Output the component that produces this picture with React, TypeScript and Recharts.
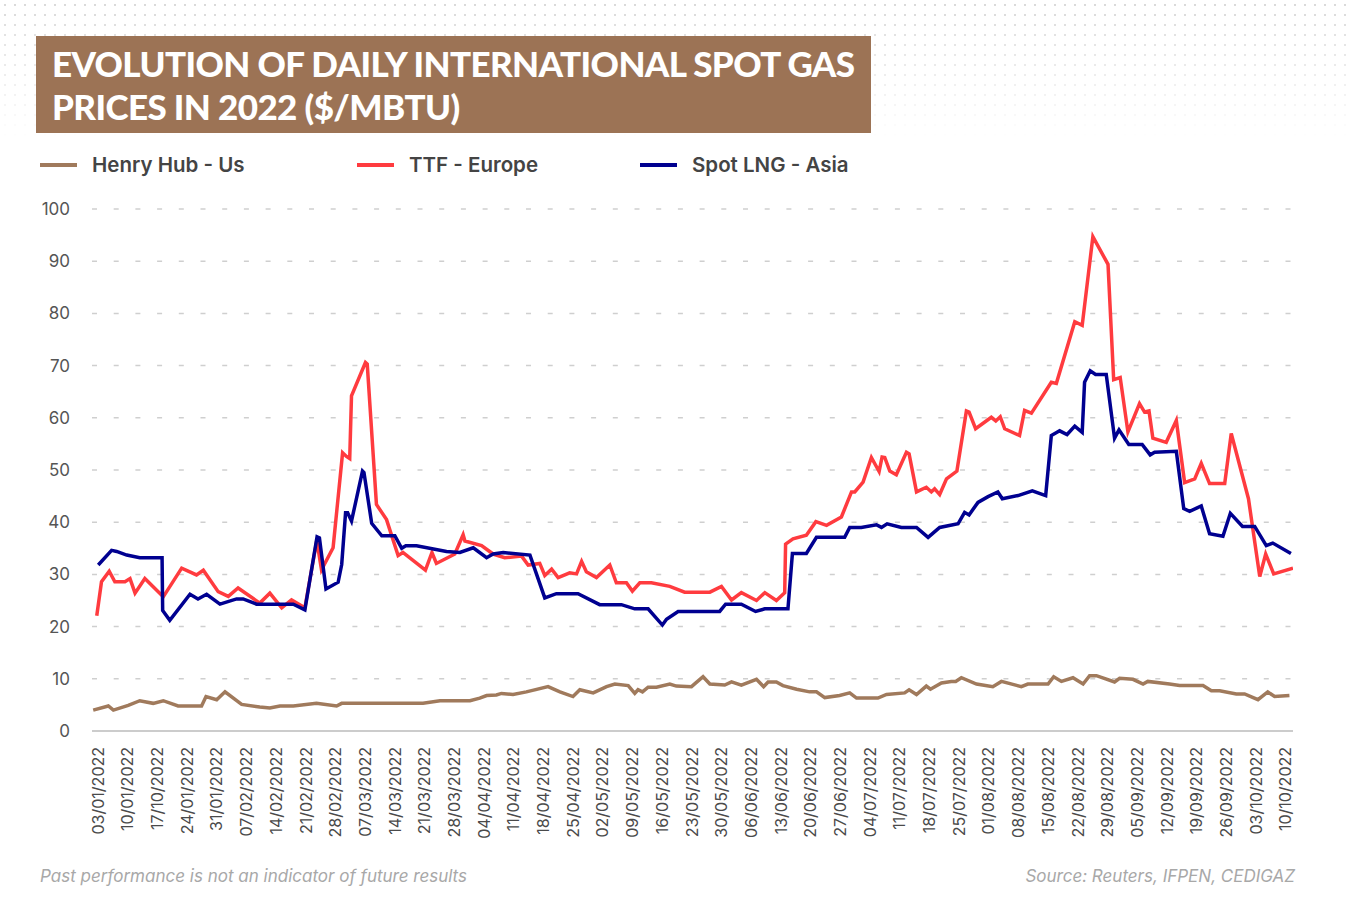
import { LineChart, Line, XAxis, YAxis, CartesianGrid } from 'recharts';

// x = weeks since 03/01/2022 (one tick per Monday), y = $/MBTU
const weekLabels = [
  '03/01/2022', '10/01/2022', '17/10/2022', '24/01/2022', '31/01/2022', '07/02/2022', '14/02/2022',
  '21/02/2022', '28/02/2022', '07/03/2022', '14/03/2022', '21/03/2022', '28/03/2022', '04/04/2022',
  '11/04/2022', '18/04/2022', '25/04/2022', '02/05/2022', '09/05/2022', '16/05/2022', '23/05/2022',
  '30/05/2022', '06/06/2022', '13/06/2022', '20/06/2022', '27/06/2022', '04/07/2022', '11/07/2022',
  '18/07/2022', '25/07/2022', '01/08/2022', '08/08/2022', '15/08/2022', '22/08/2022', '29/08/2022',
  '05/09/2022', '12/09/2022', '19/09/2022', '26/09/2022', '03/10/2022', '10/10/2022',
];

const yTicks = [0, 10, 20, 30, 40, 50, 60, 70, 80, 90, 100];

const henryHub = [
  [-0.16, 4.0], [0.35, 4.8], [0.52, 4.0], [1.02, 4.9], [1.41, 5.8], [1.86, 5.3], [2.2, 5.8], [2.7, 4.8],
  [3.49, 4.8], [3.64, 6.6], [4.0, 6.0], [4.28, 7.5], [4.84, 5.1], [5.45, 4.6], [5.79, 4.4], [6.13, 4.8],
  [6.58, 4.8], [7.36, 5.3], [8.04, 4.8], [8.21, 5.3], [10.95, 5.3], [11.52, 5.8], [12.53, 5.8], [12.86, 6.3],
  [13.09, 6.8], [13.42, 6.9], [13.59, 7.2], [13.98, 7.0], [14.43, 7.5], [15.16, 8.5], [15.56, 7.5], [16.0, 6.6],
  [16.23, 7.9], [16.68, 7.3], [17.13, 8.5], [17.41, 9.0], [17.86, 8.7], [18.08, 7.2], [18.19, 7.9], [18.34, 7.5],
  [18.53, 8.4], [18.81, 8.4], [19.26, 9.0], [19.48, 8.6], [19.99, 8.5], [20.38, 10.4], [20.61, 9.0], [21.11, 8.8],
  [21.34, 9.4], [21.67, 8.8], [22.18, 9.9], [22.42, 8.5], [22.57, 9.4], [22.85, 9.4], [23.07, 8.7], [23.53, 8.0],
  [23.97, 7.5], [24.2, 7.5], [24.48, 6.4], [24.98, 6.8], [25.32, 7.3], [25.55, 6.3], [26.27, 6.3], [26.56, 7.0],
  [27.17, 7.3], [27.32, 7.9], [27.57, 7.0], [27.9, 8.6], [28.04, 8.0], [28.41, 9.2], [28.74, 9.5], [28.89, 9.5],
  [29.08, 10.2], [29.59, 9.0], [30.14, 8.5], [30.43, 9.5], [31.1, 8.5], [31.32, 9.0], [32.0, 9.0], [32.19, 10.4],
  [32.45, 9.5], [32.84, 10.2], [33.18, 9.0], [33.4, 10.6], [33.63, 10.6], [34.24, 9.4], [34.41, 10.1], [34.86, 9.9],
  [35.2, 9.0], [35.36, 9.5], [36.09, 9.0], [36.43, 8.7], [37.22, 8.7], [37.5, 7.7], [37.78, 7.7], [38.34, 7.1],
  [38.62, 7.1], [39.07, 6.0], [39.4, 7.5], [39.63, 6.6], [40.13, 6.8],
];

const ttfEurope = [
  [-0.04, 22.1], [0.12, 28.6], [0.38, 30.6], [0.57, 28.6], [0.91, 28.6], [1.08, 29.2], [1.25, 26.4], [1.58, 29.2],
  [2.2, 25.7], [2.82, 31.2], [3.32, 29.9], [3.55, 30.8], [4.05, 26.7], [4.39, 25.8], [4.72, 27.4], [5.45, 24.5],
  [5.79, 26.4], [6.19, 23.6], [6.52, 25.1], [6.97, 23.6], [7.37, 36.5], [7.53, 30.9], [7.92, 35.1], [8.24, 53.3],
  [8.37, 52.6], [8.48, 52.2], [8.54, 64.2], [9.01, 70.6], [9.07, 70.3], [9.38, 43.4], [9.72, 40.5], [10.11, 33.6],
  [10.27, 34.2], [11.03, 30.8], [11.25, 34.2], [11.4, 32.1], [12.02, 33.9], [12.3, 37.6], [12.36, 36.4], [12.92, 35.5],
  [13.31, 33.9], [13.7, 33.2], [14.27, 33.5], [14.49, 31.8], [14.88, 32.1], [15.05, 29.8], [15.28, 31.0], [15.5, 29.4],
  [15.89, 30.3], [16.12, 30.1], [16.29, 32.5], [16.45, 30.5], [16.79, 29.4], [17.24, 31.8], [17.46, 28.4], [17.8, 28.4],
  [18.0, 26.8], [18.25, 28.4], [18.64, 28.4], [19.26, 27.7], [19.76, 26.6], [20.61, 26.6], [21.0, 27.7], [21.34, 25.1],
  [21.67, 26.5], [22.18, 25.0], [22.46, 26.5], [22.85, 25.0], [23.13, 26.5], [23.16, 35.8], [23.41, 36.8], [23.86, 37.5],
  [24.18, 40.1], [24.54, 39.4], [25.04, 41.0], [25.38, 45.8], [25.49, 45.8], [25.77, 47.7], [26.05, 52.4], [26.31, 49.7],
  [26.41, 52.5], [26.5, 52.4], [26.67, 49.8], [26.89, 49.1], [27.23, 53.4], [27.32, 53.1], [27.57, 45.8], [27.9, 46.7],
  [28.07, 45.8], [28.18, 46.4], [28.35, 45.3], [28.58, 48.3], [28.93, 49.8], [29.25, 61.3], [29.34, 61.1], [29.56, 57.9],
  [30.09, 60.1], [30.24, 59.4], [30.39, 60.2], [30.54, 57.9], [31.04, 56.6], [31.21, 61.4], [31.44, 60.9], [32.11, 66.8],
  [32.28, 66.6], [32.9, 78.4], [33.15, 77.7], [33.51, 94.7], [34.02, 89.4], [34.21, 67.3], [34.43, 67.7], [34.69, 57.3],
  [35.08, 62.7], [35.25, 61.1], [35.4, 61.3], [35.53, 56.1], [35.98, 55.3], [36.32, 59.5], [36.6, 47.6], [36.94, 48.3],
  [37.16, 51.3], [37.44, 47.4], [37.95, 47.4], [38.17, 57.0], [38.75, 44.5], [39.13, 29.6], [39.33, 33.9], [39.6, 30.1],
  [40.25, 31.2],
];

const spotLngAsia = [
  [0.01, 31.8], [0.46, 34.6], [0.63, 34.4], [0.97, 33.7], [1.41, 33.2], [2.16, 33.2], [2.18, 23.1], [2.42, 21.2],
  [3.1, 26.2], [3.37, 25.3], [3.66, 26.2], [4.11, 24.3], [4.67, 25.3], [4.89, 25.3], [5.34, 24.3], [6.58, 24.3],
  [6.97, 23.2], [7.38, 37.2], [7.46, 37.0], [7.68, 27.2], [8.09, 28.5], [8.21, 31.9], [8.34, 41.8], [8.41, 41.8],
  [8.54, 40.2], [8.91, 49.8], [8.96, 49.5], [9.22, 39.8], [9.56, 37.4], [10.0, 37.4], [10.23, 35.0], [10.37, 35.5],
  [10.73, 35.5], [11.74, 34.4], [12.19, 34.2], [12.64, 35.1], [13.09, 33.2], [13.31, 33.9], [13.65, 34.2], [14.55, 33.7],
  [15.05, 25.5], [15.44, 26.3], [16.17, 26.3], [16.9, 24.2], [17.63, 24.2], [18.08, 23.4], [18.53, 23.4], [19.01, 20.3],
  [19.15, 21.4], [19.54, 22.9], [20.94, 22.9], [21.14, 24.3], [21.67, 24.3], [22.15, 22.9], [22.46, 23.4], [23.24, 23.4],
  [23.39, 34.0], [23.86, 34.0], [24.2, 37.1], [25.15, 37.1], [25.32, 39.0], [25.71, 39.0], [26.22, 39.5], [26.39, 39.0],
  [26.58, 39.7], [27.06, 39.0], [27.57, 39.0], [27.96, 37.1], [28.35, 39.0], [28.97, 39.7], [29.19, 41.9], [29.34, 41.4],
  [29.64, 43.8], [29.98, 44.9], [30.31, 45.8], [30.46, 44.5], [30.99, 45.1], [31.47, 46.0], [31.92, 45.1], [32.11, 56.6],
  [32.39, 57.5], [32.64, 56.8], [32.9, 58.4], [33.15, 57.2], [33.23, 66.8], [33.42, 69.0], [33.6, 68.3], [33.96, 68.3],
  [34.24, 56.1], [34.39, 57.7], [34.72, 54.9], [35.17, 54.9], [35.44, 52.9], [35.59, 53.4], [36.32, 53.6], [36.57, 42.6],
  [36.77, 42.1], [37.16, 43.1], [37.44, 37.8], [37.89, 37.3], [38.14, 41.7], [38.55, 39.2], [38.96, 39.2], [39.35, 35.5],
  [39.57, 36.0], [40.18, 34.0],
];

const toRows = (pts: number[][]) => pts.map(([w, v]) => ({ w, v }));

const BROWN = '#a07a5c';
const RED = '#ff3b3f';
const BLUE = '#000090';
const FONT = 'Inter, "Noto Sans", sans-serif';

const weekTicks = weekLabels.map((_, i) => i);

function DateTick(props: any) {
  const { x, y, payload } = props;
  return (
    <g transform={`translate(${x},${y})`}>
      <text transform="rotate(-90)" x={-14} dy="0.36em" textAnchor="end" fill="#4a4a4a" fontSize={16} fontFamily={FONT}>
        {weekLabels[Math.round(payload.value)]}
      </text>
    </g>
  );
}

const legendItems = [
  { name: 'Henry Hub - Us', color: BROWN, left: 40 },
  { name: 'TTF - Europe', color: RED, left: 357 },
  { name: 'Spot LNG - Asia', color: BLUE, left: 640 },
];

export default function App() {
  return (
    <div style={{ position: 'relative', width: 1350, height: 903, background: '#fff', overflow: 'hidden', fontFamily: FONT }}>
      <style>{'body{margin:0}'}</style>
      {/* dotted decoration at the top */}
      <div
        style={{
          position: 'absolute', left: 0, top: 0, width: 1350, height: 140,
          backgroundImage: 'radial-gradient(circle, #d4d4d4 1.1px, transparent 1.5px)',
          backgroundSize: '10px 10px',
          WebkitMaskImage: 'linear-gradient(to bottom, rgba(0,0,0,0.9), rgba(0,0,0,0))',
          maskImage: 'linear-gradient(to bottom, rgba(0,0,0,0.9), rgba(0,0,0,0))',
        }}
      />
      <div
        style={{
          position: 'absolute', left: 36, top: 36, width: 835, height: 97, background: '#9c7355',
          color: '#fff', fontFamily: 'Lato, sans-serif', fontWeight: 900, fontSize: 35, lineHeight: '43px',
          letterSpacing: -0.6, padding: '6px 0 0 16px', boxSizing: 'border-box',
        }}
      >
        EVOLUTION OF DAILY INTERNATIONAL SPOT GAS
        <br />
        PRICES IN 2022 ($/MBTU)
      </div>

      {legendItems.map((it) => (
        <div key={it.name} style={{ position: 'absolute', left: it.left, top: 152, display: 'flex', alignItems: 'center' }}>
          <div style={{ width: 37, height: 4, background: it.color, marginRight: 15 }} />
          <span style={{ fontSize: 20.5, fontWeight: 600, color: '#444' }}>{it.name}</span>
        </div>
      ))}

      <div style={{ position: 'absolute', left: 0, top: 0 }}>
        <LineChart width={1350} height={870} margin={{ top: 209, right: 57, left: 0, bottom: 19 }}>
          <CartesianGrid vertical={false} stroke="#cfcfcf" strokeWidth={1.5} strokeDasharray="5 16.7" />
          <XAxis
            dataKey="w"
            type="number"
            domain={[-0.2, 40.25]}
            ticks={weekTicks}
            interval={0}
            allowDataOverflow
            height={120}
            tickLine={false}
            tickSize={0}
            axisLine={{ stroke: '#cccccc', strokeWidth: 2 }}
            tick={<DateTick />}
          />
          <YAxis
            type="number"
            domain={[0, 100]}
            ticks={yTicks}
            width={92}
            axisLine={false}
            tickLine={false}
            tickSize={0}
            tickMargin={22}
            tick={{ fill: '#555', fontSize: 17, fontFamily: FONT }}
          />
          <Line data={toRows(henryHub)} dataKey="v" type="linear" stroke={BROWN} strokeWidth={3.5} dot={false} isAnimationActive={false} />
          <Line data={toRows(ttfEurope)} dataKey="v" type="linear" stroke={RED} strokeWidth={3.5} dot={false} isAnimationActive={false} />
          <Line data={toRows(spotLngAsia)} dataKey="v" type="linear" stroke={BLUE} strokeWidth={3.5} dot={false} isAnimationActive={false} />
        </LineChart>
      </div>

      <div style={{ position: 'absolute', left: 40, top: 866, fontSize: 17, fontStyle: 'italic', color: '#a8a8a8' }}>
        Past performance is not an indicator of future results
      </div>
      <div style={{ position: 'absolute', right: 55, top: 866, fontSize: 17, fontStyle: 'italic', color: '#a8a8a8' }}>
        Source: Reuters, IFPEN, CEDIGAZ
      </div>
    </div>
  );
}
